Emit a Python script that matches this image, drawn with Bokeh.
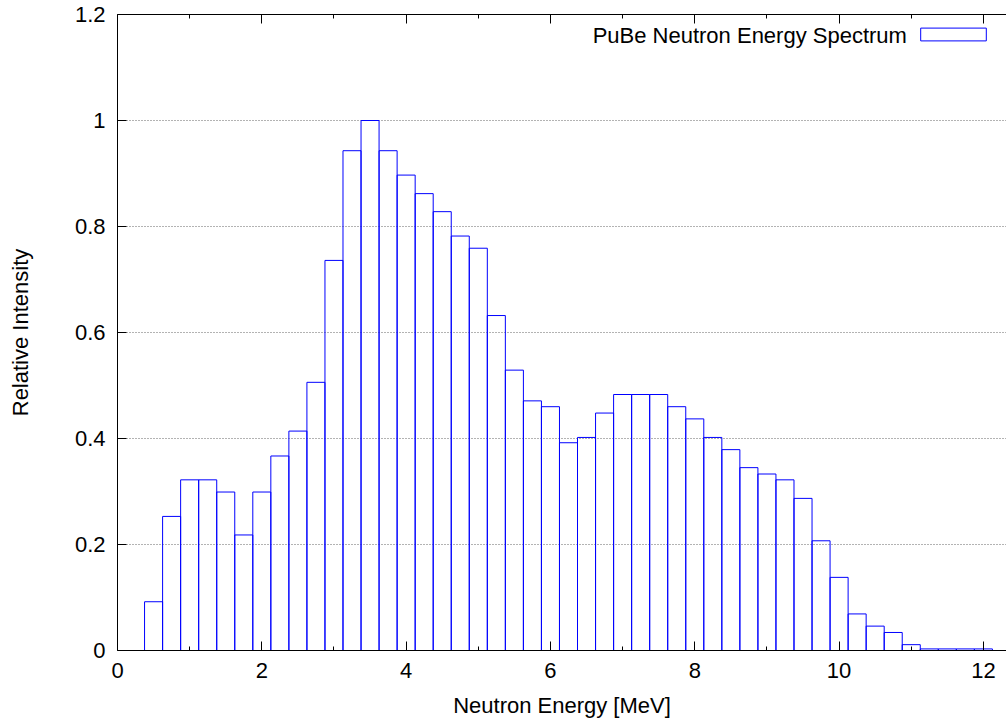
from bokeh.plotting import figure
from bokeh.models import (Range1d, FixedTicker, LinearAxis, Label, Legend, LegendItem,
                          CustomLabelingPolicy)
from bokeh.embed import file_html
from bokeh.resources import INLINE

# ---- data ----
energy = [0.5, 0.75, 1.0, 1.25, 1.5, 1.75, 2.0, 2.25, 2.5, 2.75,
          3.0, 3.25, 3.5, 3.75, 4.0, 4.25, 4.5, 4.75, 5.0, 5.25,
          5.5, 5.75, 6.0, 6.25, 6.5, 6.75, 7.0, 7.25, 7.5, 7.75,
          8.0, 8.25, 8.5, 8.75, 9.0, 9.25, 9.5, 9.75, 10.0, 10.25,
          10.5, 10.75, 11.0, 11.25, 11.5, 11.75, 12.0]
intensity = [0.092, 0.253, 0.322, 0.322, 0.299, 0.218, 0.299, 0.367, 0.414, 0.506,
             0.736, 0.943, 1.000, 0.943, 0.897, 0.862, 0.828, 0.782, 0.759, 0.632,
             0.529, 0.471, 0.460, 0.392, 0.402, 0.448, 0.483, 0.483, 0.483, 0.460,
             0.437, 0.402, 0.379, 0.345, 0.333, 0.322, 0.287, 0.207, 0.138, 0.069,
             0.046, 0.034, 0.011, 0.003, 0.003, 0.003, 0.003]
bin_width = 0.25
x_ticks = [0, 2, 4, 6, 8, 10, 12]
x_minor_ticks = [1, 3, 5, 7, 9, 11]
y_ticks = [0, 0.2, 0.4, 0.6, 0.8, 1.0, 1.2]
y_grid_ticks = [0.2, 0.4, 0.6, 0.8, 1.0]
y_tick_overrides = {0: "0", 1: "1"}
series_name = "PuBe Neutron Energy Spectrum"
x_title = "Neutron Energy [MeV]"
y_title = "Relative Intensity"

FONT = "Liberation Sans"
FS = "22px"

p = figure(width=1006, height=724, output_backend="svg", toolbar_location=None,
           x_range=Range1d(0, 12.32), y_range=Range1d(0, 1.2),
           min_border_left=117, min_border_right=0, min_border_top=14,
           min_border_bottom=74)
p.outline_line_color = None
p.background_fill_color = "white"
p.border_fill_color = "white"

r = p.vbar(x=energy, top=intensity, width=bin_width, bottom=0,
           fill_color=None, line_color="#0000ff", line_width=1)

# axes
xa = p.xaxis[0]
xa.ticker = FixedTicker(ticks=x_ticks, minor_ticks=x_minor_ticks)
xa.axis_label = x_title
ya = p.yaxis[0]
ya.ticker = FixedTicker(ticks=y_ticks)
ya.major_label_overrides = y_tick_overrides
ya.axis_label = y_title
for ax in (xa, ya):
    ax.axis_line_color = "black"
    ax.major_tick_line_color = "black"
    ax.minor_tick_line_color = "black"
    ax.major_tick_in = 9
    ax.major_tick_out = 0
    ax.minor_tick_in = 4
    ax.minor_tick_out = 0
    ax.major_label_text_font = FONT
    ax.major_label_text_font_size = FS
    ax.major_label_text_color = "black"
    ax.axis_label_text_font = FONT
    ax.axis_label_text_font_size = FS
    ax.axis_label_text_font_style = "normal"
    ax.axis_label_text_color = "black"
xa.major_label_standoff = 12
xa.axis_label_standoff = 12
ya.major_label_standoff = 12
ya.axis_label_standoff = 39
ya.minor_tick_line_color = None

# mirrored ticks along the top edge (no labels)
top_axis = LinearAxis(ticker=FixedTicker(ticks=x_ticks, minor_ticks=x_minor_ticks),
                      major_label_text_font_size="0px", major_label_standoff=0,
                      major_label_policy=CustomLabelingPolicy(code="return new Set()"),
                      major_tick_in=9, major_tick_out=0,
                      minor_tick_in=4, minor_tick_out=0,
                      axis_line_color="black")
p.add_layout(top_axis, "above")

# grid
p.xgrid.visible = False
p.ygrid.ticker = FixedTicker(ticks=y_grid_ticks)
p.ygrid.grid_line_color = "#666666"
p.ygrid.grid_line_dash = "1 2"
p.ygrid.grid_line_width = 1

# legend (text on the left, sample on the right, as in the original)
legend = Legend(items=[LegendItem(label=" ", renderers=[r])], location="top_right",
                glyph_width=82, glyph_height=16, padding=0, margin=12, spacing=0,
                label_standoff=0, label_width=0, label_height=0,
                label_text_font_size="1px", border_line_color=None,
                background_fill_alpha=0)
p.add_layout(legend)
p.add_layout(Label(x=10.94, y=1.161, text=series_name, text_align="right",
                   text_baseline="middle", text_font=FONT, text_font_size=FS,
                   text_color="black"))

open("out.html", "w").write(file_html(p, INLINE))
